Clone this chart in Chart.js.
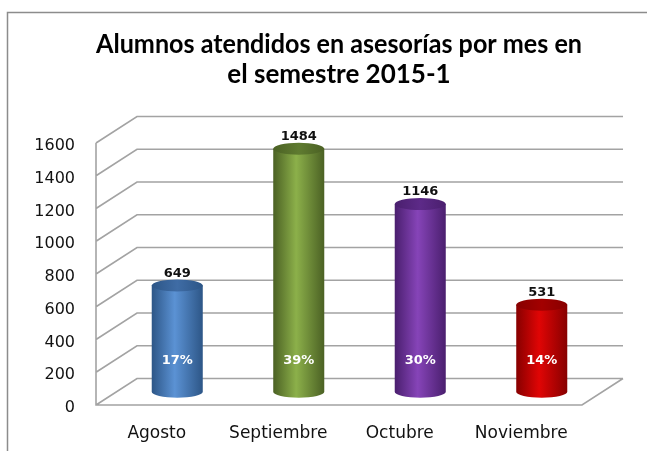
<!DOCTYPE html>
<html>
<head>
<meta charset="utf-8">
<script src="https://cdn.jsdelivr.net/npm/chart.js@4"></script>
<style>
  html, body { margin: 0; padding: 0; background: #fff; }
</style>
</head>
<body>
<canvas id="myChart" width="647" height="451"></canvas>
<script>
// datos del grafico
var meses = ['Agosto', 'Septiembre', 'Octubre', 'Noviembre'];
var alumnos = [649, 1484, 1146, 531];
var porcentajes = ['17%', '39%', '30%', '14%'];
var titulo = ['Alumnos atendidos en asesorías por mes en', 'el semestre 2015-1'];

// colores de los cilindros: [borde, centro, tapa]
var colores = [
  ['#2d5687', '#5b92d4', '#3f6ca5'],
  ['#4b6124', '#8cb04a', '#5f7b30'],
  ['#4a1f6e', '#8644b8', '#5d2a88'],
  ['#870000', '#e00505', '#a30000']
];

// profundidad del efecto 3d
var dx = 41, dy = -26.5;

var efecto3d = {
  id: 'efecto3d',
  beforeDraw: function (chart) {
    var ctx = chart.ctx;
    ctx.save();
    ctx.strokeStyle = '#8c8c8c';
    ctx.lineWidth = 1.5;
    ctx.beginPath();
    ctx.moveTo(7.5, chart.height);
    ctx.lineTo(7.5, 12.5);
    ctx.lineTo(chart.width, 12.5);
    ctx.stroke();
    ctx.restore();
  },
  beforeDatasetsDraw: function (chart) {
    var ctx = chart.ctx;
    var a = chart.chartArea;
    var y = chart.scales.y;
    ctx.save();
    ctx.strokeStyle = '#a3a3a3';
    ctx.lineWidth = 1.6;
    ctx.beginPath();
    y.ticks.forEach(function (t) {
      var py = y.getPixelForValue(t.value);
      ctx.moveTo(a.left, py);
      ctx.lineTo(a.left + dx, py + dy);
      ctx.lineTo(a.right + dx, py + dy);
    });
    ctx.moveTo(a.left, a.top);
    ctx.lineTo(a.left, a.bottom);
    ctx.lineTo(a.right, a.bottom);
    ctx.lineTo(a.right + dx, a.bottom + dy);
    ctx.stroke();
    ctx.restore();
  },
  afterDatasetsDraw: function (chart) {
    var ctx = chart.ctx;
    var meta = chart.getDatasetMeta(0);
    ctx.save();
    meta.data.forEach(function (bar, i) {
      var cx = bar.x + dx / 2;
      var top = bar.y + dy / 2;
      var bot = bar.base + dy / 2;
      var r = bar.width / 2;
      var ry = 6;
      var c = colores[i];

      var g = ctx.createLinearGradient(cx - r, 0, cx + r, 0);
      g.addColorStop(0, c[0]);
      g.addColorStop(0.45, c[1]);
      g.addColorStop(1, c[0]);
      ctx.fillStyle = g;
      ctx.beginPath();
      ctx.moveTo(cx - r, top);
      ctx.lineTo(cx - r, bot);
      ctx.ellipse(cx, bot, r, ry, 0, Math.PI, 0, true);
      ctx.lineTo(cx + r, top);
      ctx.closePath();
      ctx.fill();

      var g2 = ctx.createLinearGradient(cx - r, 0, cx + r, 0);
      g2.addColorStop(0, c[0]);
      g2.addColorStop(0.5, c[2]);
      g2.addColorStop(1, c[0]);
      ctx.fillStyle = g2;
      ctx.beginPath();
      ctx.ellipse(cx, top, r, ry, 0, 0, Math.PI * 2);
      ctx.fill();

      ctx.textAlign = 'center';
      ctx.textBaseline = 'middle';
      ctx.fillStyle = '#111';
      ctx.font = 'bold 13px "DejaVu Sans"';
      ctx.fillText(alumnos[i], cx, top - 12);

      ctx.fillStyle = '#fff';
      ctx.font = 'bold 13px "DejaVu Sans"';
      ctx.fillText(porcentajes[i], cx, bot - 31);
    });
    ctx.restore();
  }
};

var ctx = document.getElementById('myChart').getContext('2d');
var chart = new Chart(ctx, {
  type: 'bar',
  data: {
    labels: meses,
    datasets: [{
      label: 'Alumnos',
      data: alumnos,
      backgroundColor: 'rgba(0,0,0,0)',
      borderWidth: 0,
      categoryPercentage: 1,
      barPercentage: 0.42
    }]
  },
  options: {
    responsive: false,
    animation: false,
    layout: { padding: { left: 0, right: 65, top: 0, bottom: 0 } },
    plugins: {
      legend: { display: false },
      tooltip: { enabled: false },
      title: {
        display: true,
        fullSize: false,
        text: titulo,
        color: '#000',
        font: { family: 'Lato', size: 26, weight: 'bold', lineHeight: 1.154 },
        padding: { top: 30, bottom: 53 }
      }
    },
    scales: {
      x: {
        afterFit: function (scale) { scale.height = 46; },
        grid: { display: false, drawTicks: false },
        border: { display: false },
        ticks: { color: '#111', padding: 18, font: { family: 'DejaVu Sans', size: 17 } }
      },
      y: {
        min: 0,
        max: 1600,
        afterFit: function (scale) { scale.width = 96; },
        grid: { display: false, drawTicks: false },
        border: { display: false },
        ticks: {
          stepSize: 200,
          color: '#111',
          padding: 21,
          labelOffset: 3,
          font: { family: 'DejaVu Sans', size: 16 },
          callback: function (v) { return String(v); }
        }
      }
    }
  },
  plugins: [efecto3d]
});
</script>
</body>
</html>
